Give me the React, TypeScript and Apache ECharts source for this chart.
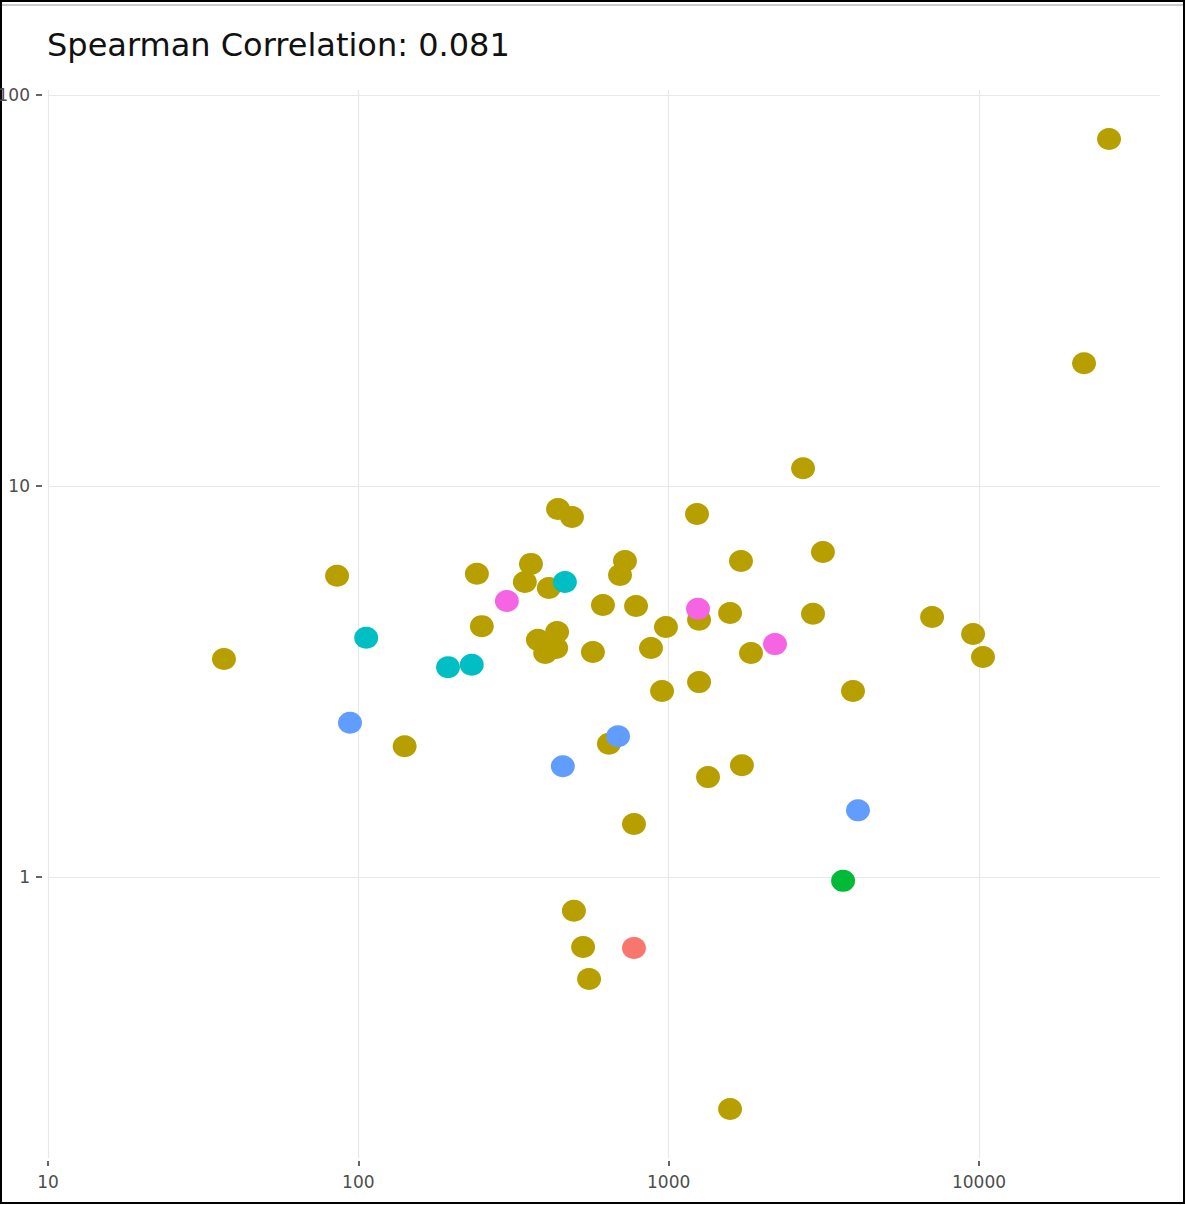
import React, { useEffect, useRef } from "react";
import * as echarts from "echarts";

// Axis tick values
const xTicks = [10, 100, 1000, 10000];
const yTicks = [1, 10, 100];

// Group A (salmon)
const aX = [773];
const aY = [0.658];

// Group B (olive)
const bX = [26240, 21800, 2710, 440, 488, 1234, 3141, 1710, 723, 360, 697, 85.4, 241, 344, 411, 614, 785, 1577, 1253, 2918, 7060, 250, 980, 437, 379, 9570, 400, 434, 570, 877, 1842, 10300, 36.9, 1253, 952, 3926, 141, 642, 1722, 1339, 773, 495, 530, 554, 1577];
const bY = [77.2, 20.6, 11.1, 8.73, 8.33, 8.48, 6.78, 6.43, 6.43, 6.32, 5.92, 5.89, 5.96, 5.68, 5.48, 4.96, 4.93, 4.73, 4.55, 4.71, 4.62, 4.38, 4.36, 4.23, 4.04, 4.18, 3.74, 3.85, 3.76, 3.85, 3.74, 3.65, 3.61, 3.15, 2.99, 2.99, 2.16, 2.19, 1.93, 1.8, 1.366, 0.819, 0.662, 0.548, 0.255];

// Group C (green)
const cX = [3647];
const cY = [0.977];

// Group D (cyan)
const dX = [106, 194.5, 232, 463];
const dY = [4.09, 3.44, 3.49, 5.68];

// Group E (blue)
const eX = [94, 456, 687, 4074];
const eY = [2.48, 1.92, 2.29, 1.48];

// Group F (pink)
const fX = [301, 1243, 2201];
const fY = [5.08, 4.85, 3.94];

const groups = [
  { name: "B", xs: bX, ys: bY, color: "#B79F00" },
  { name: "A", xs: aX, ys: aY, color: "#F8766D" },
  { name: "C", xs: cX, ys: cY, color: "#00BA38" },
  { name: "D", xs: dX, ys: dY, color: "#00BFC4" },
  { name: "E", xs: eX, ys: eY, color: "#619CFF" },
  { name: "F", xs: fX, ys: fY, color: "#F564E3" },
];

export default function App() {
  const ref = useRef<HTMLDivElement>(null);
  useEffect(() => {
    if (!ref.current) return;
    const chart = echarts.init(ref.current, null, { renderer: "svg" });
    const fmt = (v: number) => String(Math.round(v));
    chart.setOption({
      animation: false,
      backgroundColor: "#ffffff",
      title: {
        text: "Spearman Correlation: 0.081",
        left: 42,
        top: 24,
        textStyle: {
          fontFamily: "DejaVu Sans",
          fontSize: 32,
          fontWeight: "normal",
          color: "#111111",
        },
      },
      grid: {
        left: 48,
        right: 26,
        top: 90,
        bottom: 47,
        containLabel: false,
        outerBoundsMode: "none",
      },
      xAxis: {
        type: "log",
        logBase: 10,
        min: 10,
        max: 38300,
        offset: 3,
        axisLine: { show: false },
        axisTick: {
          show: true,
          length: 5,
          customValues: xTicks,
          lineStyle: { color: "#333333", width: 1.5 },
        },
        axisLabel: {
          customValues: xTicks,
          formatter: fmt,
          margin: 12,
          fontFamily: "DejaVu Sans",
          fontSize: 17,
          color: "#4d4d4d",
        },
        splitLine: { show: true, lineStyle: { color: "#e8e8e8", width: 1.2 } },
      },
      yAxis: {
        type: "log",
        logBase: 10,
        min: 0.191,
        max: 103,
        offset: 6,
        axisLine: { show: false },
        axisTick: {
          show: true,
          length: 6,
          customValues: yTicks,
          lineStyle: { color: "#333333", width: 1.5 },
        },
        axisLabel: {
          customValues: yTicks,
          formatter: fmt,
          margin: 12,
          fontFamily: "DejaVu Sans",
          fontSize: 17,
          color: "#4d4d4d",
        },
        splitLine: { show: true, lineStyle: { color: "#e8e8e8", width: 1.2 } },
      },
      graphic: [
        {
          type: "rect",
          shape: { x: 1, y: 1, width: 1183, height: 1202 },
          style: { fill: "none", stroke: "#000000", lineWidth: 2 },
          silent: true,
        },
        {
          type: "line",
          shape: { x1: 2, y1: 5, x2: 1183, y2: 5 },
          style: { stroke: "#cccccc", lineWidth: 2 },
          silent: true,
        },
      ],
      series: groups.map((g) => ({
        name: g.name,
        type: "scatter",
        symbol: "circle",
        symbolSize: [24, 22],
        itemStyle: { color: g.color, opacity: 1 },
        data: g.xs.map((x, i) => [x, g.ys[i]]),
      })),
    });
    return () => chart.dispose();
  }, []);
  return (
    <div
      ref={ref}
      style={{ position: "absolute", left: 0, top: 0, width: 1186, height: 1205, background: "#fff" }}
    />
  );
}
